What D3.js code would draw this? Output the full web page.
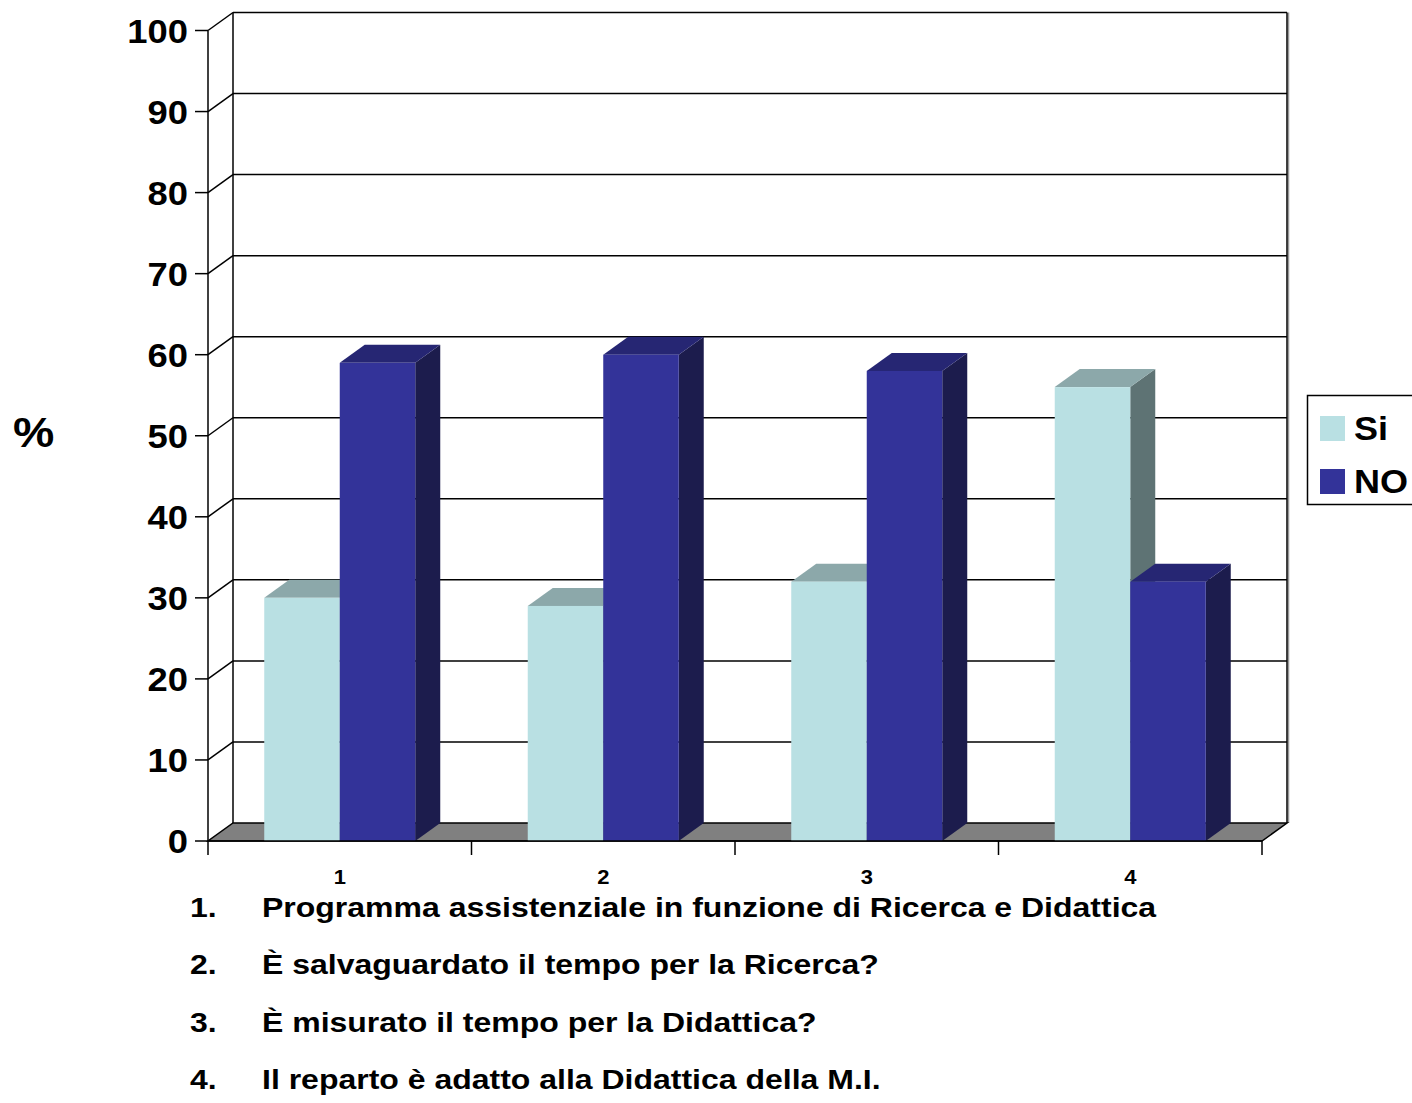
<!DOCTYPE html>
<html>
<head>
<meta charset="utf-8">
<script src="https://cdn.jsdelivr.net/npm/d3@7"></script>
<style>
  html, body { margin: 0; padding: 0; background: #fff; }
  svg { display: block; }
  svg text { font-family: Arial, "Liberation Sans", Helvetica, sans-serif; font-weight: 700; fill: #000; }
</style>
</head>
<body>
<svg id="chart" width="1412" height="1103"></svg>
<script>
// ---- data ----
const categories = ["1", "2", "3", "4"];
const seriesNames = ["Si", "NO"];
const siValues = [30, 29, 32, 56];
const noValues = [59, 60, 58, 32];
const yTicks = [0, 10, 20, 30, 40, 50, 60, 70, 80, 90, 100];
const questions = [
  "Programma assistenziale in funzione di Ricerca e Didattica",
  "È salvaguardato il tempo per la Ricerca?",
  "È misurato il tempo per la Didattica?",
  "Il reparto è adatto alla Didattica della M.I."
];

// ---- styles ----
const colors = {
  Si: { front: "#B9E0E3", top: "#8CA8AA", side: "#5E7374" },
  NO: { front: "#333399", top: "#262673", side: "#1C1C4D" }
};

const svg = d3.select("#chart");
const DX = 25, DY = 18;
const x0 = 208, x1 = 1262, yBottom = 841, yTop = 30.5;

const y = d3.scaleLinear().domain([0, 100]).range([yBottom, yTop]);
const x = d3.scaleBand().domain(categories).range([x0, x1]).padding(0);
const bw = x.bandwidth();
const groupW = 151;
const xs = d3.scaleBand().domain(seriesNames).range([(bw - groupW) / 2, (bw + groupW) / 2]).padding(0);

// stretched text helper (anchor at x,y; horizontal scale sx)
function stext(parent, tx, ty, sx, size, anchor, str) {
  return parent.append("g").attr("transform", `translate(${tx},${ty}) scale(${sx},1)`)
    .append("text").attr("x", 0).attr("y", 0).attr("font-size", size)
    .attr("text-anchor", anchor).text(str);
}

// back wall gridlines
const g = svg.append("g");
g.selectAll("line.grid").data(yTicks.filter(d => d > 0)).join("line")
  .attr("x1", x0 + DX).attr("x2", x1 + DX)
  .attr("y1", d => y(d) - DY).attr("y2", d => y(d) - DY)
  .attr("stroke", "#000").attr("stroke-width", 1.5);
g.selectAll("line.diag").data(yTicks.filter(d => d > 0)).join("line")
  .attr("x1", x0).attr("x2", x0 + DX)
  .attr("y1", d => y(d)).attr("y2", d => y(d) - DY)
  .attr("stroke", "#000").attr("stroke-width", 1.5);
g.append("line").attr("x1", x0 + DX).attr("x2", x0 + DX).attr("y1", y(100) - DY).attr("y2", y(0) - DY)
  .attr("stroke", "#000").attr("stroke-width", 1.5);
g.append("line").attr("x1", x1 + DX + 1.5).attr("x2", x1 + DX + 1.5).attr("y1", y(100) - DY).attr("y2", y(0) - DY)
  .attr("stroke", "#999").attr("stroke-width", 1.5);
g.append("line").attr("x1", x1 + DX).attr("x2", x1 + DX).attr("y1", y(100) - DY).attr("y2", y(0) - DY)
  .attr("stroke", "#000").attr("stroke-width", 1.5);

// floor
g.append("path")
  .attr("d", `M${x0},${y(0)} L${x1},${y(0)} L${x1 + DX},${y(0) - DY} L${x0 + DX},${y(0) - DY} Z`)
  .attr("fill", "#808080").attr("stroke", "#000").attr("stroke-width", 1.5);

// bars
const barData = [];
categories.forEach((c, i) => {
  barData.push({ cat: c, s: "Si", v: siValues[i] });
  barData.push({ cat: c, s: "NO", v: noValues[i] });
});
const bars = svg.append("g");
barData.forEach(d => {
  const bx = x(d.cat) + xs(d.s);
  const w = xs.bandwidth();
  const top = y(d.v), bot = y(0);
  const c = colors[d.s];
  const gb = bars.append("g");
  gb.append("path")
    .attr("d", `M${bx + w},${bot} L${bx + w + DX},${bot - DY} L${bx + w + DX},${top - DY} L${bx + w},${top} Z`)
    .attr("fill", c.side);
  gb.append("path")
    .attr("d", `M${bx},${top} L${bx + DX},${top - DY} L${bx + w + DX},${top - DY} L${bx + w},${top} Z`)
    .attr("fill", c.top);
  gb.append("rect").attr("x", bx).attr("y", top).attr("width", w).attr("height", bot - top)
    .attr("fill", c.front);
});

// front y axis
const axY = svg.append("g");
axY.append("line").attr("x1", x0).attr("x2", x0).attr("y1", y(100)).attr("y2", y(0))
  .attr("stroke", "#000").attr("stroke-width", 1.5);
axY.selectAll("line.tick").data(yTicks).join("line")
  .attr("x1", x0 - 13).attr("x2", x0).attr("y1", d => y(d)).attr("y2", d => y(d))
  .attr("stroke", "#000").attr("stroke-width", 1.5);
yTicks.forEach(t => stext(axY, 188, y(t) + 12, 1.07, 34, "end", t));

// x axis
const axX = svg.append("g");
axX.append("line").attr("x1", x0).attr("x2", x1).attr("y1", y(0)).attr("y2", y(0))
  .attr("stroke", "#000").attr("stroke-width", 1.5);
const bounds = categories.map(c => x(c)).concat([x1]);
axX.selectAll("line.tick").data(bounds).join("line")
  .attr("x1", d => d).attr("x2", d => d).attr("y1", y(0)).attr("y2", y(0) + 14)
  .attr("stroke", "#000").attr("stroke-width", 1.5);
categories.forEach(c => stext(axX, x(c) + bw / 2, 884, 1.1, 20, "middle", c));

// y axis title
stext(svg, 13, 447, 1.08, 43, "start", "%");

// legend
const lg = svg.append("g");
lg.append("rect").attr("x", 1307.5).attr("y", 395.5).attr("width", 120).attr("height", 109)
  .attr("fill", "#fff").attr("stroke", "#000").attr("stroke-width", 1.5);
seriesNames.forEach((s, i) => {
  lg.append("rect").attr("x", 1320).attr("y", 416 + i * 53).attr("width", 25).attr("height", 25)
    .attr("fill", colors[s].front);
  stext(lg, 1354, 440 + i * 53, 1.06, 34, "start", s);
});

// question list
const ql = svg.append("g");
questions.forEach((q, i) => {
  const by = 917 + i * 57.3;
  stext(ql, 190, by, 1.185, 27, "start", (i + 1) + ".");
  stext(ql, 262, by, 1.185, 27, "start", q);
});
</script>
</body>
</html>
